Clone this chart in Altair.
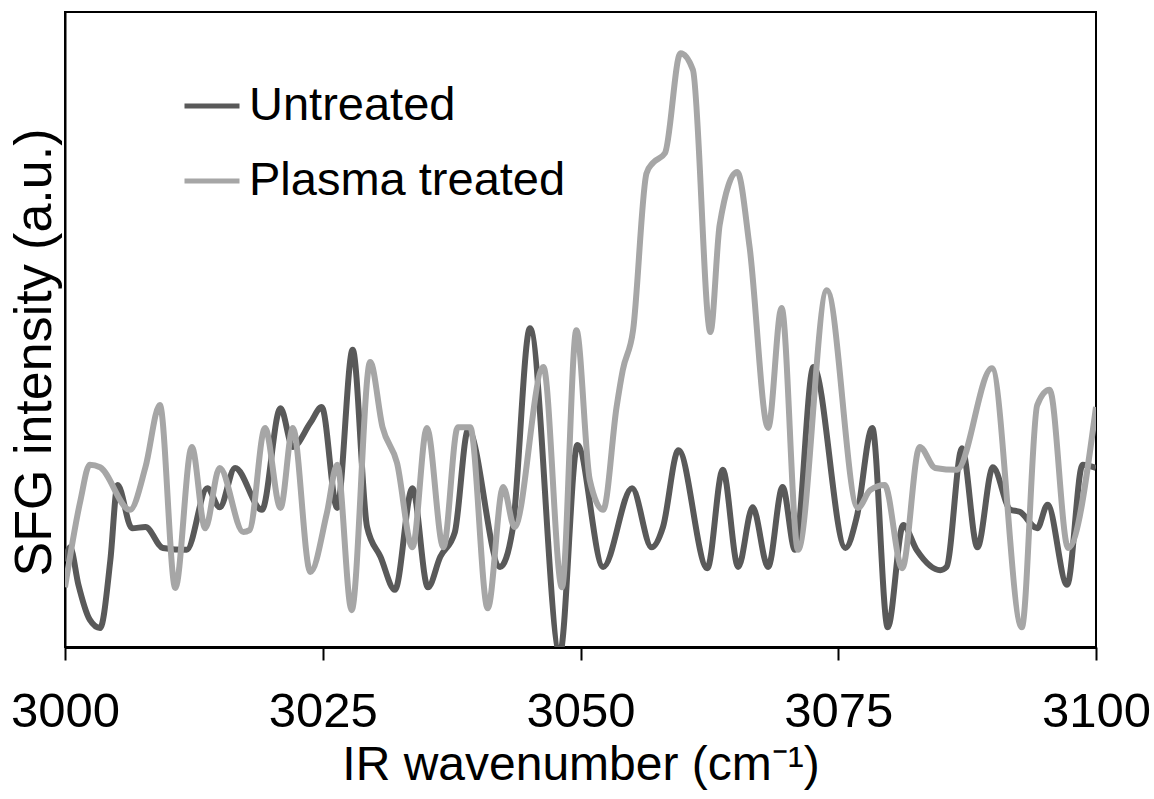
import altair as alt
import pandas as pd

# Untreated (dark grey) series
untreated_x = [3000.0, 3000.5, 3001.3, 3002.4, 3003.4, 3004.4, 3005.1, 3006.5, 3007.8, 3009.5,
               3011.8, 3013.8, 3015.0, 3016.5, 3019.1, 3020.9, 3022.1, 3023.8, 3024.9, 3026.4,
               3027.9, 3029.3, 3030.6, 3032.0, 3033.7, 3035.2, 3036.4, 3037.8, 3039.1, 3042.2,
               3043.4, 3045.1, 3048.0, 3049.7, 3052.2, 3055.0, 3056.9, 3058.0, 3059.5, 3062.3,
               3063.8, 3065.3, 3066.7, 3068.2, 3069.6, 3070.8, 3072.6, 3075.7, 3076.8, 3078.3,
               3079.8, 3081.3, 3082.6, 3084.9, 3085.5, 3087.0, 3088.5, 3090.0, 3091.7, 3092.6,
               3094.3, 3095.3, 3097.2, 3098.7, 3100.0]
untreated_y = [13.5, 15.7, 9.8, 4.3, 3.0, 13.7, 25.5, 18.7, 18.9, 15.6,
               15.3, 25.0, 22.0, 28.2, 21.6, 37.6, 31.5, 35.3, 37.8, 21.9,
               46.8, 18.9, 14.2, 9.0, 25.0, 9.4, 14.2, 18.0, 34.2, 12.6,
               18.4, 50.2, -1.0, 31.8, 12.6, 25.0, 15.7, 18.9, 31.0, 12.4,
               27.9, 12.6, 22.0, 12.6, 25.2, 15.3, 44.1, 15.6, 20.5, 34.5,
               3.1, 19.2, 15.3, 12.1, 12.6, 31.3, 15.7, 28.3, 21.6, 21.3,
               18.7, 22.4, 9.8, 28.7, 28.2]

# Plasma treated (light grey) series
plasma_x = [3000.0, 3001.5, 3002.4, 3003.4, 3006.3, 3007.8, 3009.2, 3010.7, 3012.3, 3013.6,
            3015.0, 3017.3, 3017.9, 3019.4, 3020.9, 3022.1, 3023.8, 3025.4, 3026.4, 3027.8,
            3029.6, 3030.8, 3032.2, 3033.7, 3035.1, 3036.7, 3038.1, 3039.3, 3041.0, 3042.5,
            3043.6, 3046.4, 3048.2, 3049.6, 3050.9, 3052.2, 3053.5, 3054.1, 3055.1, 3056.4,
            3057.0, 3058.2, 3059.7, 3060.9, 3062.6, 3063.5, 3065.2, 3066.4, 3068.2, 3069.5,
            3071.1, 3073.9, 3076.9, 3078.1, 3079.5, 3081.2, 3082.9, 3084.4, 3086.5, 3089.9,
            3092.8, 3094.3, 3095.5, 3097.3, 3100.0]
plasma_y = [9.4, 23.1, 28.7, 28.3, 21.6, 28.3, 38.1, 9.3, 31.5, 18.7,
            28.2, 18.1, 18.4, 34.5, 21.9, 34.5, 11.8, 21.1, 28.7, 5.8,
            44.9, 34.6, 29.0, 15.7, 34.5, 15.7, 34.6, 34.6, 6.1, 25.2,
            18.9, 44.1, 9.4, 49.9, 26.3, 21.6, 37.8, 43.6, 49.9, 74.6,
            76.2, 77.8, 93.5, 90.9, 49.6, 66.5, 74.8, 63.0, 34.5, 53.4,
            15.3, 56.2, 21.9, 24.7, 25.5, 12.4, 31.5, 28.2, 27.9, 43.9,
            3.1, 38.1, 40.5, 15.6, 37.8]

series_names = ["Untreated", "Plasma treated"]
series_colors = ["#595959", "#A6A6A6"]
x_ticks = [3000, 3025, 3050, 3075, 3100]

df = pd.concat([
    pd.DataFrame({"x": untreated_x, "y": untreated_y, "series": series_names[0]}),
    pd.DataFrame({"x": plasma_x, "y": plasma_y, "series": series_names[1]}),
])

FONT = "Liberation Sans"

x_enc = alt.X("x:Q",
              scale=alt.Scale(domain=[3000, 3100], nice=False, zero=False),
              axis=alt.Axis(values=x_ticks, title="IR wavenumber (cm⁻¹)", format="d",
                            grid=False, tickSize=13, tickWidth=2, tickColor="black",
                            domainColor="black", domainWidth=3,
                            labelFontSize=49, labelColor="black", labelFont=FONT,
                            labelPadding=27, labelFlush=False,
                            titleFontSize=48, titleFont=FONT, titleFontWeight="normal",
                            titleColor="black", titlePadding=5))
y_enc = alt.Y("y:Q",
              scale=alt.Scale(domain=[0, 100], nice=False, zero=False),
              axis=alt.Axis(title="SFG intensity (a.u.)", labels=False, ticks=False,
                            grid=False, domainColor="black", domainWidth=2,
                            titleFontSize=52, titleFont=FONT, titleFontWeight="normal",
                            titleColor="black", titlePadding=4, titleY=340))
color_enc = alt.Color("series:N",
                      scale=alt.Scale(domain=series_names, range=series_colors),
                      legend=alt.Legend(title=None, orient="none", legendX=117, legendY=64,
                                        symbolType="stroke", symbolSize=3025,
                                        symbolStrokeWidth=5, labelFontSize=47,
                                        labelFont=FONT, labelColor="black", labelLimit=0,
                                        labelOffset=7, rowPadding=22, padding=0))

base = alt.Chart(df)
dark = base.transform_filter(alt.datum.series == series_names[0]).mark_line(
    strokeWidth=6, interpolate="monotone", clip=True
).encode(x=x_enc, y=y_enc, color=color_enc)
light = base.transform_filter(alt.datum.series == series_names[1]).mark_line(
    strokeWidth=6, interpolate="monotone", clip=True
).encode(x=x_enc, y=y_enc, color=color_enc)

chart = alt.layer(dark, light).properties(
    width=1031, height=635,
    autosize=alt.AutoSizeParams(type="none"),
    padding={"left": 65, "top": 12, "right": 58, "bottom": 152},
    background="white",
).configure_view(stroke="black", strokeWidth=2)

chart.save("out.html", embed_options={"renderer": "svg", "actions": False})
